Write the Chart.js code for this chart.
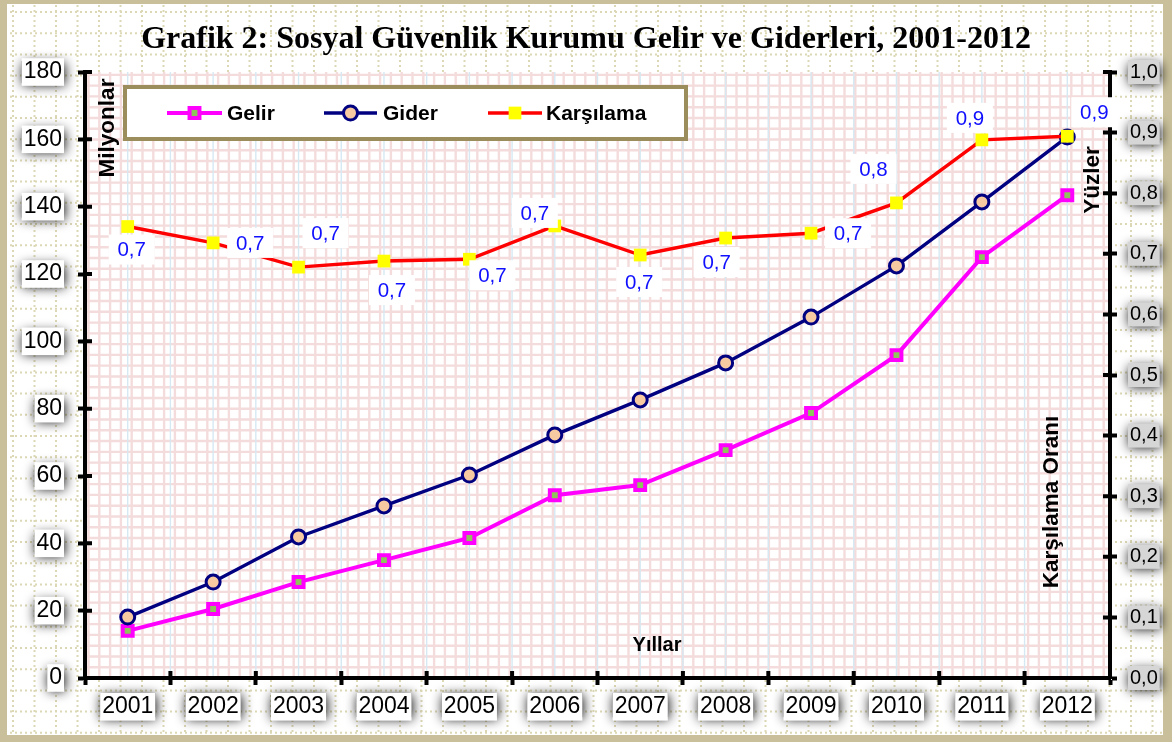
<!DOCTYPE html>
<html>
<head>
<meta charset="utf-8">
<script src="https://cdn.jsdelivr.net/npm/chart.js@4.4.0/dist/chart.umd.min.js"></script>
<style>
  html, body { margin: 0; padding: 0; background: #fff; }
  #wrap { width: 1172px; height: 742px; }
</style>
</head>
<body>
<div id="wrap"><canvas id="chart" width="1172" height="742"></canvas></div>
<script>
// values (milyon TL, ratio)
const years = ['2001', '2002', '2003', '2004', '2005', '2006', '2007', '2008', '2009', '2010', '2011', '2012'];
const gelir = [14.0, 20.5, 28.5, 35.0, 41.6, 54.3, 57.3, 67.7, 78.7, 95.9, 125.0, 143.4];
const gider = [18.1, 28.5, 41.9, 51.1, 60.3, 72.2, 82.6, 93.6, 107.2, 122.4, 141.4, 160.7];
const karsilama = [0.745, 0.718, 0.678, 0.688, 0.691, 0.746, 0.698, 0.726, 0.734, 0.784, 0.888, 0.894];
const leftTicks = [0, 20, 40, 60, 80, 100, 120, 140, 160, 180];
const rightTicks = [0, 0.1, 0.2, 0.3, 0.4, 0.5, 0.6, 0.7, 0.8, 0.9, 1.0];

const SANS = "'Liberation Sans', Arial, sans-serif";
const comma = v => Number(v).toFixed(1).replace('.', ',');

function drawMarker(ctx, style, x, y, r, fill, stroke, bw) {
  ctx.beginPath();
  if (style === 'rect') {
    const s = Math.SQRT1_2 * r;
    ctx.rect(x - s, y - s, 2 * s, 2 * s);
  } else {
    ctx.arc(x, y, r, 0, Math.PI * 2);
  }
  ctx.fillStyle = fill;
  ctx.fill();
  if (bw > 0) {
    ctx.lineWidth = bw;
    ctx.strokeStyle = stroke;
    ctx.stroke();
  }
}

const decor = {
  id: 'decor',
  beforeDraw(chart) {
    const ctx = chart.ctx, a = chart.chartArea;
    const W = chart.width, H = chart.height;
    const xs = chart.scales.x, yl = chart.scales.y, yr = chart.scales.y1;
    ctx.save();
    ctx.fillStyle = '#fff';
    ctx.fillRect(0, 0, W, H);

    // dotted paper
    ctx.strokeStyle = '#dcd7b4';
    ctx.lineWidth = 2;
    ctx.setLineDash([2, 3]);
    ctx.beginPath();
    for (let x = 13; x < W; x += 21.5) { ctx.moveTo(x, 0); ctx.lineTo(x, H); }
    for (let y = 12; y < H; y += 21.2) { ctx.moveTo(0, y); ctx.lineTo(W, y); }
    ctx.stroke();
    ctx.setLineDash([]);

    // plot area
    ctx.fillStyle = '#fff';
    ctx.fillRect(a.left, a.top, a.width, a.height);
    ctx.save();
    ctx.beginPath();
    ctx.rect(a.left, a.top, a.width, a.height);
    ctx.clip();
    ctx.strokeStyle = '#f4dcdc';
    ctx.lineWidth = 2.4;
    ctx.beginPath();
    for (let x = a.left + 3.5; x < a.right; x += 10.8) { ctx.moveTo(x, a.top); ctx.lineTo(x, a.bottom); }
    for (let y = a.bottom; y > a.top; y -= 10.77) { ctx.moveTo(a.left, y); ctx.lineTo(a.right, y); }
    ctx.stroke();
    ctx.strokeStyle = '#d6e9f3';
    ctx.lineWidth = 1.4;
    ctx.beginPath();
    for (let i = 0; i < years.length; i++) {
      const c = xs.getPixelForValue(i);
      const half = (xs.getPixelForValue(1) - xs.getPixelForValue(0)) / 2;
      ctx.moveTo(c, a.top); ctx.lineTo(c, a.bottom);
      ctx.moveTo(c + half, a.top); ctx.lineTo(c + half, a.bottom);
    }
    ctx.stroke();
    ctx.restore();

    // frame
    ctx.fillStyle = '#c9c09b';
    ctx.fillRect(0, 0, W, 4);
    ctx.fillRect(0, 0, 7, H);
    ctx.fillRect(W - 9, 0, 9, H);
    ctx.fillRect(0, H - 7, W, 7);

    // glow behind tick label boxes
    ctx.shadowColor = 'rgba(0,0,0,0.95)';
    ctx.shadowBlur = 12;
    ctx.shadowOffsetX = 1;
    ctx.shadowOffsetY = 2;
    ctx.fillStyle = '#555';
    ctx.font = '23px ' + SANS;
    leftTicks.forEach(v => {
      const y = yl.getPixelForValue(v);
      const w = ctx.measureText(String(v)).width;
      ctx.fillRect(yl.right - 23 - w - 2, y - 11, w + 4, 22);
    });
    years.forEach((t, i) => {
      const x = xs.getPixelForValue(i);
      const w = ctx.measureText(t).width;
      ctx.fillRect(x - w / 2 - 2, 693, w + 4, 24);
    });
    ctx.font = '20px ' + SANS;
    rightTicks.forEach(v => {
      const y = yr.getPixelForValue(v);
      const w = ctx.measureText(comma(v)).width;
      ctx.fillRect(yr.left + 20 - 2, y - 10, w + 4, 20);
    });
    ctx.restore();
  },
  afterDatasetsDraw(chart) {
    const ctx = chart.ctx;
    const meta = chart.getDatasetMeta(2);
    const offs = [[4, 23], [37, 0], [27, -34], [8, 29], [23, 16], [-20, -13],
                  [-1, 27], [-9, 24], [37, 0], [-23, -34], [-12, -22], [27, -24]];
    ctx.save();
    ctx.font = '20.5px ' + SANS;
    ctx.textAlign = 'center';
    ctx.textBaseline = 'middle';
    meta.data.forEach((pt, i) => {
      const cx = pt.x + offs[i][0], cy = pt.y + offs[i][1];
      ctx.fillStyle = '#fff';
      ctx.fillRect(cx - 23, cy - 15, 46, 30);
      ctx.fillStyle = '#1010ff';
      ctx.fillText(comma(karsilama[i]), cx, cy + 1);
    });
    ctx.restore();
  },
  afterDraw(chart) {
    const ctx = chart.ctx;
    const xs = chart.scales.x, yl = chart.scales.y, yr = chart.scales.y1;
    ctx.save();
    // inner halves of the tick marks
    ctx.strokeStyle = '#000';
    ctx.lineWidth = 4;
    ctx.beginPath();
    leftTicks.forEach(v => { const y = yl.getPixelForValue(v); ctx.moveTo(yl.right, y); ctx.lineTo(yl.right + 7, y); });
    rightTicks.forEach(v => { const y = yr.getPixelForValue(v); ctx.moveTo(yr.left, y); ctx.lineTo(yr.left - 7, y); });
    const step = xs.getPixelForValue(1) - xs.getPixelForValue(0);
    for (let i = 0; i <= years.length; i++) {
      const x = xs.getPixelForValue(0) - step / 2 + i * step;
      ctx.moveTo(x, xs.top); ctx.lineTo(x, xs.top - 7);
    }
    ctx.stroke();

    // axis titles
    ctx.fillStyle = '#000';
    ctx.font = 'bold 22.5px ' + SANS;
    ctx.textAlign = 'center';
    ctx.textBaseline = 'middle';
    const vert = (txt, x, y) => {
      ctx.save();
      ctx.translate(x, y);
      ctx.rotate(-Math.PI / 2);
      ctx.fillText(txt, 0, 0);
      ctx.restore();
    };
    vert('Milyonlar', 108, 128);
    vert('Yüzler', 1093, 180);
    vert('Karşılama Oranı', 1052, 502);
    ctx.font = 'bold 20px ' + SANS;
    ctx.fillText('Yıllar', 657, 645);

    // legend box
    const bx = 125, by = 87, bw = 561, bh = 52;
    ctx.fillStyle = '#fff';
    ctx.fillRect(bx, by, bw, bh);
    ctx.strokeStyle = '#9b8d5c';
    ctx.lineWidth = 4;
    ctx.strokeRect(bx, by, bw, bh);
    const cy = by + bh / 2;
    const slots = [[167, 222, 227], [324, 377, 383], [488, 542, 546]];
    ctx.font = 'bold 21px ' + SANS;
    ctx.textAlign = 'left';
    chart.data.datasets.forEach((ds, i) => {
      const [x0, x1, tx] = slots[i];
      ctx.strokeStyle = ds.borderColor;
      ctx.lineWidth = ds.borderWidth;
      ctx.beginPath();
      ctx.moveTo(x0, cy); ctx.lineTo(x1, cy);
      ctx.stroke();
      drawMarker(ctx, ds.pointStyle, (x0 + x1) / 2, cy, ds.pointRadius,
                 ds.pointBackgroundColor, ds.pointBorderColor, ds.pointBorderWidth);
      ctx.fillStyle = '#000';
      ctx.fillText(ds.label, tx, cy + 1);
    });
    ctx.restore();
  }
};

new Chart(document.getElementById('chart'), {
  type: 'line',
  data: {
    labels: years,
    datasets: [
      {
        label: 'Gelir',
        data: gelir,
        yAxisID: 'y',
        order: 2,
        borderColor: '#ff00ff',
        borderWidth: 4,
        pointStyle: 'rect',
        pointRadius: 7,
        pointBackgroundColor: '#8fc35b',
        pointBorderColor: '#ff00ff',
        pointBorderWidth: 4,
        tension: 0
      },
      {
        label: 'Gider',
        data: gider,
        yAxisID: 'y',
        order: 1,
        borderColor: '#000080',
        borderWidth: 3.4,
        pointStyle: 'circle',
        pointRadius: 7,
        pointBackgroundColor: '#f8caa2',
        pointBorderColor: '#000080',
        pointBorderWidth: 3,
        tension: 0
      },
      {
        label: 'Karşılama',
        data: karsilama,
        yAxisID: 'y1',
        order: 0,
        borderColor: '#ff0000',
        borderWidth: 3.4,
        pointStyle: 'rect',
        pointRadius: 9,
        pointBackgroundColor: '#ffff00',
        pointBorderColor: '#ffff00',
        pointBorderWidth: 0,
        tension: 0
      }
    ]
  },
  options: {
    responsive: false,
    animation: false,
    events: [],
    layout: { padding: 0 },
    plugins: {
      legend: { display: false },
      tooltip: { enabled: false },
      title: {
        display: true,
        text: 'Grafik 2: Sosyal Güvenlik Kurumu Gelir ve Giderleri, 2001-2012',
        color: '#000',
        font: { family: "'Liberation Serif', 'Times New Roman', serif", size: 32, weight: 'bold' },
        padding: { top: 21, bottom: 12.6 }
      }
    },
    scales: {
      x: {
        offset: true,
        grid: { offset: true, drawOnChartArea: false, tickLength: 7, tickWidth: 4, tickColor: '#000' },
        border: { color: '#000', width: 4 },
        ticks: {
          color: '#000', font: { family: SANS, size: 23 }, padding: 8,
          maxRotation: 0, autoSkip: false,
          showLabelBackdrop: true, backdropColor: '#fff', backdropPadding: { x: 2, y: 0 }
        },
        afterFit(s) { s.height = 64; }
      },
      y: {
        position: 'left',
        min: 0, max: 180,
        afterBuildTicks(s) { s.ticks = leftTicks.map(v => ({ value: v })); },
        grid: { drawOnChartArea: false, tickLength: 7, tickWidth: 4, tickColor: '#000' },
        border: { color: '#000', width: 4 },
        ticks: {
          color: '#000', font: { family: SANS, size: 23 }, padding: 16,
          showLabelBackdrop: true, backdropColor: '#fff', backdropPadding: { x: 2, y: 0 }
        },
        afterFit(s) { s.width = 85; }
      },
      y1: {
        position: 'right',
        min: 0, max: 1,
        afterBuildTicks(s) { s.ticks = rightTicks.map(v => ({ value: v })); },
        grid: { drawOnChartArea: false, tickLength: 7, tickWidth: 4, tickColor: '#000' },
        border: { color: '#000', width: 4 },
        ticks: {
          color: '#000', font: { family: SANS, size: 20 }, padding: 13,
          callback: v => comma(v),
          showLabelBackdrop: true, backdropColor: '#d6d6d6', backdropPadding: { x: 2, y: 0 }
        },
        afterFit(s) { s.width = 62; }
      }
    }
  },
  plugins: [decor]
});
</script>
</body>
</html>
